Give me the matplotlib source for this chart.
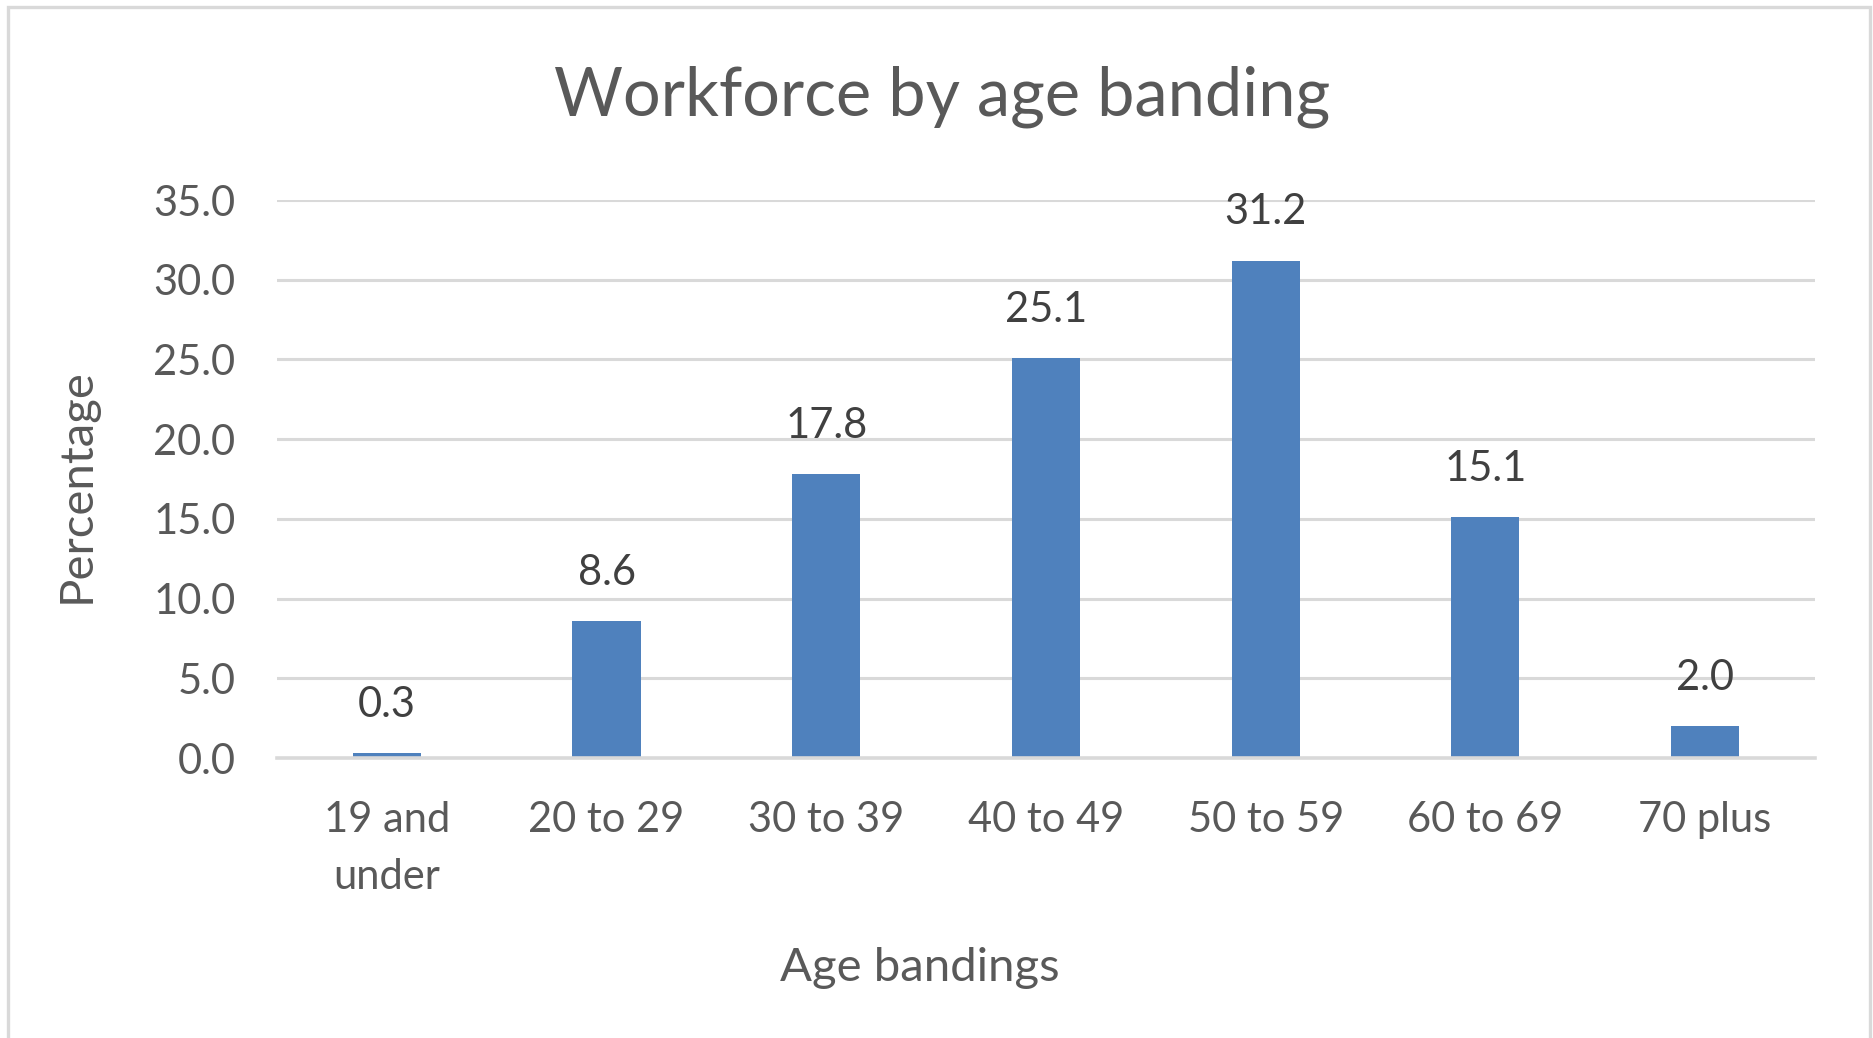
import numpy as np
import matplotlib
matplotlib.use("Agg")
import matplotlib.pyplot as plt
from matplotlib.patches import Rectangle

plt.rcParams['font.family'] = ['Lato', 'DejaVu Sans']

# data
categories = ['19 and\nunder', '20 to 29', '30 to 39', '40 to 49', '50 to 59', '60 to 69', '70 plus']
percentages = [0.3, 8.6, 17.8, 25.1, 31.2, 15.1, 2.0]
yticks = np.arange(0, 36, 5)

bar_color = '#4F81BD'
grid_color = '#D9D9D9'
text_color = '#595959'
label_color = '#404040'

fig = plt.figure(figsize=(18.74, 10.38), dpi=100)
ax = fig.add_axes([0.1478, 0.2697, 0.9685 - 0.1478, 0.8073 - 0.2697])

x = np.arange(len(categories))
bars = ax.bar(x, percentages, width=0.31, color=bar_color, zorder=3)

### data labels
for xi, v in zip(x, percentages):
    ax.annotate('%.1f' % v, (xi, v), xytext=(0, 21), textcoords='offset points',
                ha='center', va='bottom', fontsize=30, color=label_color)

ax.set_xlim(-0.5, len(categories) - 0.5)
ax.set_ylim(0, 35)
ax.set_yticks(yticks)
ax.set_yticklabels(['%.1f' % t for t in yticks])
ax.set_xticks(x)
ax.set_xticklabels(categories, linespacing=1.6)

ax.tick_params(axis='y', length=0, pad=30, labelsize=30, labelcolor=text_color)
ax.tick_params(axis='x', length=0, pad=31, labelsize=30, labelcolor=text_color)

ax.grid(axis='y', color=grid_color, linewidth=2.2, zorder=0)
for s in ['top', 'right', 'left']:
    ax.spines[s].set_visible(False)
ax.spines['bottom'].set_color(grid_color)
ax.spines['bottom'].set_linewidth(2.6)
ax.spines['bottom'].set_zorder(4)

### titles
fig.text(0.5025, 0.907, 'Workforce by age banding', ha='center', va='center',
         fontsize=48, color=text_color)
fig.text(0.491, 0.067, 'Age bandings', ha='center', va='center',
         fontsize=34, color=text_color)
fig.text(0.041, 0.532, 'Percentage', ha='center', va='center', rotation=90,
         fontsize=34, color=text_color)

### chart border
fig.patches.append(Rectangle((0.0045, -0.05), 0.9935, 1.0435, transform=fig.transFigure,
                             fill=False, edgecolor=grid_color, linewidth=2.4))

fig.savefig('out.png', dpi=100, facecolor='white')
